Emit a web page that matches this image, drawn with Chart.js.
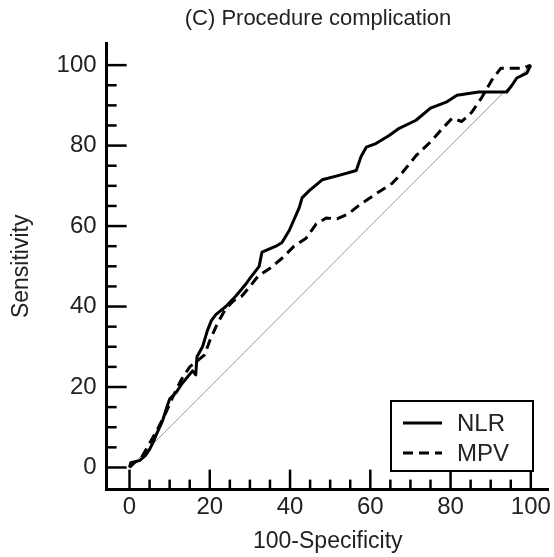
<!DOCTYPE html>
<html>
<head>
<meta charset="utf-8">
<script src="https://cdn.jsdelivr.net/npm/chart.js@4"></script>
<style>
  html, body { margin: 0; padding: 0; background: #fff; }
  canvas { display: block; }
</style>
</head>
<body>
<canvas id="rocChart" width="554" height="557"></canvas>
<script>
const chartTitle = '(C) Procedure complication';
const seriesNames = ['NLR', 'MPV'];
const xTickLabels = [0, 20, 40, 60, 80, 100];
const yTickLabels = [0, 20, 40, 60, 80, 100];

// NLR curve as [100-specificity, sensitivity]
const nlrX = [0, 0.3, 2.5, 4, 5, 6, 6.7, 8.2, 9.2, 10, 11.5, 13.2, 15.7, 16.5, 16.8, 18.2, 19.4, 20.4, 21.5, 24, 26.5, 29, 30, 32.3, 33, 36.5, 38, 39.8, 42.3, 43, 44.8, 48, 52.2, 56.5, 57.7, 59, 61.4, 64.7, 67.2, 71.4, 75, 78.9, 81.6, 87, 94, 95.3, 96.5, 99, 100];
const nlrY = [0, 1.2, 1.7, 3, 4.5, 6.5, 8.2, 11.5, 14.7, 17, 18.5, 21, 24, 23, 27.5, 30, 34, 36.5, 38, 40, 42.6, 45.6, 47, 50, 53.5, 55, 55.9, 58.9, 64.6, 67, 68.8, 71.5, 72.6, 73.8, 77.3, 79.6, 80.5, 82.5, 84.3, 86.3, 89.3, 90.8, 92.5, 93.3, 93.3, 95, 96.8, 98, 100];

// MPV curve
const mpvX = [0, 1, 3, 5, 7, 9, 11, 13, 15, 17.5, 18.7, 20, 22, 24, 26, 28, 30, 32, 35, 38, 41, 44, 46.5, 49, 51.7, 54.5, 57, 61.4, 65.4, 68, 71.4, 75.4, 78, 80.4, 82.8, 85.3, 87.8, 90.3, 92.5, 98, 100];
const mpvY = [0, 1, 2.5, 6, 9.5, 13.5, 18, 22, 25, 27, 28, 31.5, 36, 39.5, 41.5, 42.6, 45, 47.5, 49.5, 52, 55, 57, 60.5, 62, 61.8, 63, 65, 68, 70.6, 73.3, 77.5, 81.3, 84.3, 86.8, 86, 88.3, 92, 96.3, 99.2, 99.2, 100];

// chance diagonal
const refX = [0, 100];
const refY = [0, 100];

const toPoints = (xs, ys) => xs.map((x, i) => ({ x: x, y: ys[i] }));
const textColor = '#222';
const fontFamily = 'Liberation Sans, Arial, sans-serif';

// inward tick marks every 5, longer every 20
const innerTicks = {
    id: 'innerTicks',
    afterDraw(chart) {
        const ctx = chart.ctx;
        const xs = chart.scales.x;
        const ys = chart.scales.y;
        const area = chart.chartArea;
        ctx.save();
        ctx.strokeStyle = '#000';
        ctx.lineWidth = 2.5;
        for (let v = 0; v <= 100; v += 5) {
            const len = v % 20 === 0 ? 20 : 10;
            const px = xs.getPixelForValue(v);
            ctx.beginPath();
            ctx.moveTo(px, area.bottom);
            ctx.lineTo(px, area.bottom - len);
            ctx.stroke();
            const py = ys.getPixelForValue(v);
            ctx.beginPath();
            ctx.moveTo(area.left, py);
            ctx.lineTo(area.left + len, py);
            ctx.stroke();
        }
        ctx.restore();
    }
};

// title and legend box drawn inside the plot
const decorations = {
    id: 'decorations',
    afterDraw(chart) {
        const ctx = chart.ctx;
        ctx.save();
        ctx.fillStyle = textColor;
        ctx.font = '22px ' + fontFamily;
        ctx.textAlign = 'center';
        ctx.textBaseline = 'middle';
        ctx.fillText(chartTitle, 318, 19);

        const bx = 391, by = 401, bw = 142, bh = 70;
        ctx.strokeStyle = '#000';
        ctx.lineWidth = 2;
        ctx.fillStyle = '#fff';
        ctx.fillRect(bx, by, bw, bh);
        ctx.strokeRect(bx, by, bw, bh);

        chart.data.datasets.slice(0, 2).forEach((ds, i) => {
            const rowY = by + 22 + i * 30;
            ctx.beginPath();
            ctx.lineWidth = 3;
            ctx.setLineDash(ds.borderDash || []);
            ctx.moveTo(bx + 12, rowY);
            ctx.lineTo(bx + 51, rowY);
            ctx.stroke();
            ctx.setLineDash([]);
            ctx.fillStyle = textColor;
            ctx.font = '24px ' + fontFamily;
            ctx.textAlign = 'left';
            ctx.fillText(ds.label, bx + 66, rowY + 1);
        });
        ctx.restore();
    }
};

const ctx = document.getElementById('rocChart').getContext('2d');

const rocChart = new Chart(ctx, {
    type: 'line',
    data: {
        datasets: [{
            label: seriesNames[0],
            data: toPoints(nlrX, nlrY),
            borderColor: '#000',
            borderWidth: 3,
            borderJoinStyle: 'round',
            pointRadius: 0,
            tension: 0,
            fill: false
        }, {
            label: seriesNames[1],
            data: toPoints(mpvX, mpvY),
            borderColor: '#000',
            borderWidth: 3,
            borderDash: [10, 6],
            borderJoinStyle: 'round',
            pointRadius: 0,
            tension: 0,
            fill: false
        }, {
            label: 'reference',
            data: toPoints(refX, refY),
            borderColor: '#9a9a9a',
            borderWidth: 1,
            pointRadius: 0,
            fill: false
        }]
    },
    options: {
        responsive: false,
        animation: false,
        layout: {
            padding: { top: 43, right: 4, left: 0, bottom: 0 }
        },
        plugins: {
            legend: { display: false },
            title: { display: false },
            tooltip: { enabled: false }
        },
        scales: {
            x: {
                type: 'linear',
                min: -5.7,
                max: 104.5,
                afterBuildTicks: scale => {
                    scale.ticks = xTickLabels.map(v => ({ value: v }));
                },
                grid: { display: false, drawTicks: false },
                border: { display: true, color: '#000', width: 3 },
                ticks: {
                    color: textColor,
                    padding: 3,
                    maxRotation: 0,
                    font: { size: 24, family: fontFamily }
                },
                title: {
                    display: true,
                    text: '100-Specificity',
                    color: textColor,
                    font: { size: 23, family: fontFamily },
                    padding: { top: 3, bottom: 2 }
                }
            },
            y: {
                type: 'linear',
                min: -5.5,
                max: 105.5,
                afterBuildTicks: scale => {
                    scale.ticks = yTickLabels.map(v => ({ value: v }));
                },
                grid: { display: false, drawTicks: false },
                border: { display: true, color: '#000', width: 3 },
                ticks: {
                    color: textColor,
                    padding: 10,
                    font: { size: 24, family: fontFamily }
                },
                title: {
                    display: true,
                    text: 'Sensitivity',
                    color: textColor,
                    font: { size: 23, family: fontFamily },
                    padding: { top: 8, bottom: 11 }
                }
            }
        }
    },
    plugins: [innerTicks, decorations]
});
</script>
</body>
</html>
